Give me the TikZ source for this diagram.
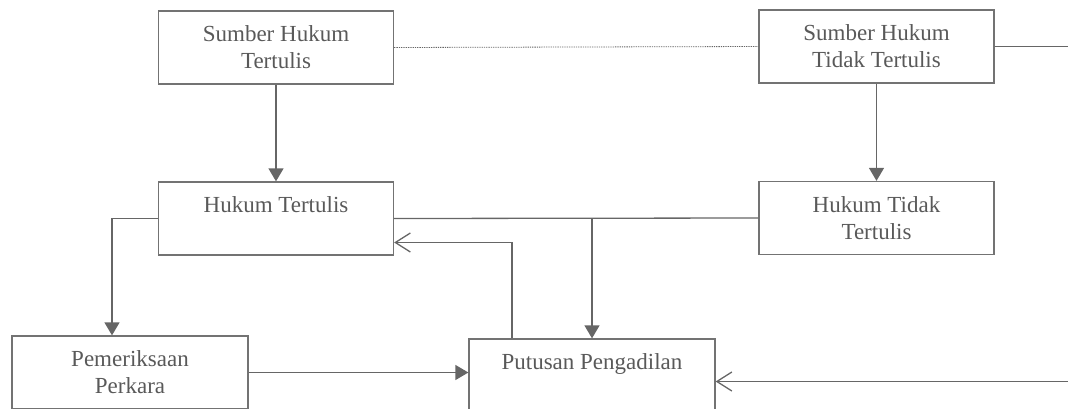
\documentclass[tikz,border=0pt]{standalone}
\usepackage{fontspec}
\setmainfont{Liberation Serif}
\usetikzlibrary{arrows.meta}

\begin{document}
\begin{tikzpicture}[
  x=1pt, y=-1pt,
  every node/.style={
    font=\fontsize{23}{27}\selectfont, text=black!65, align=center
  },
  box/.style={
    draw=black!55, line width=1.3pt, minimum width=235pt,
    minimum height=73pt, inner sep=0pt
  },
  link/.style={
    draw=black!60, line width=1.3pt
  },
  fill arrow/.style={
    link, -{Triangle[length=13pt, width=15pt]}
  },
  open arrow/.style={
    link, -{Straight Barb[length=15pt, width=19pt, line width=1.3pt]}
  }
  ]
  \useasboundingbox (0,0) rectangle (1068,408);
  \node[box] (shT) at (276,47.5) {Sumber Hukum\\Tertulis};
  \node[box] (shTT) at (876.5,46.5) {Sumber Hukum\\Tidak Tertulis};
  \node[box] (hT) at (276,218.5) {Hukum Tertulis\\\mbox{}};
  \node[box] (hTT) at (876.5,218) {Hukum Tidak\\Tertulis};
  \node[box, minimum width=236pt] (pp) at (130,372.5) {Pemeriksaan\\Perkara};
  \node[box, minimum width=246pt] (put) at (592,375.5) {Putusan Pengadilan\\\mbox{}};
  \coordinate (edge) at (1069.5,46.5);
  \coordinate (j) at (hT.east -| put.north);
  \draw[link, densely dotted, line width=0.8pt] (shT.east) -- (shTT.west);
  \draw[fill arrow] (shT) -- (hT);
  \draw[fill arrow] (shTT) -- (hTT);
  \draw[link] (hTT.west) -- (hT.east);
  \draw[fill arrow] (j) -- (put.north);
  \draw[fill arrow] (hT.west) -| ([xshift=-18pt]pp.north);
  \draw[fill arrow] (pp.east) -- (pp.east -| put.west);
  \draw[open arrow] ([xshift=-80pt]put.north) |- ([yshift=-24pt]hT.east);
  \draw[open arrow] (shTT.east) -- (edge) |- ([yshift=-6pt]put.east);
\end{tikzpicture}
\end{document}
